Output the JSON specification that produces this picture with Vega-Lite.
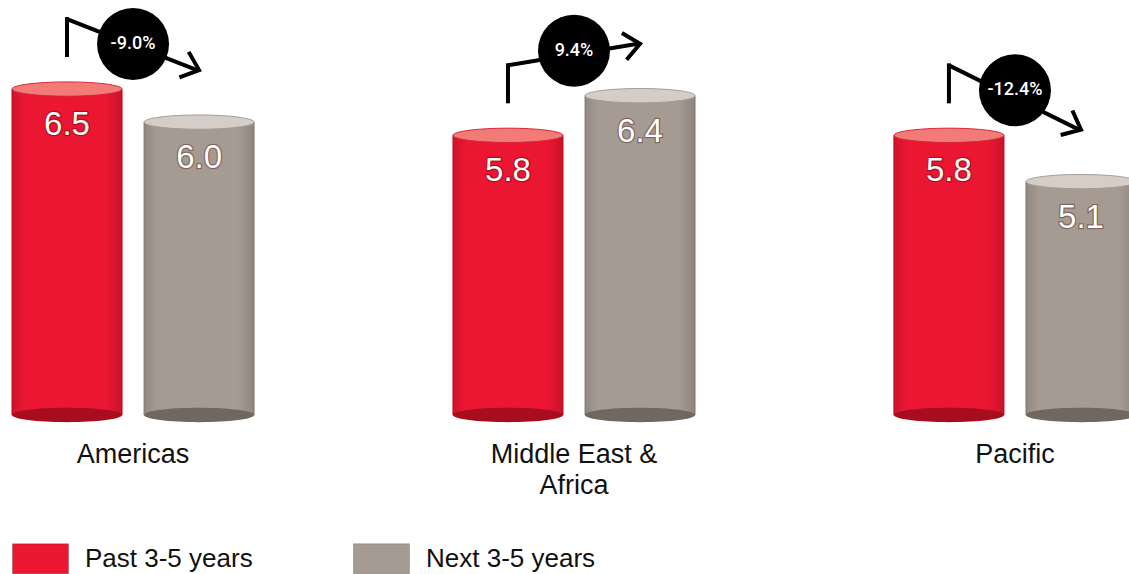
{
  "$schema": "https://vega.github.io/schema/vega-lite/v6.json",
  "width": 1129,
  "height": 359,
  "autosize": {"type": "none"},
  "padding": {"left": 0, "top": 56, "right": 0, "bottom": 159},
  "background": "white",
  "config": {"view": {"stroke": null}, "font": "Liberation Sans"},
  "datasets": {
    "bars": [
      {"region": "Americas", "period": "Past 3-5 years", "value": 6.5},
      {"region": "Americas", "period": "Next 3-5 years", "value": 6.0},
      {"region": "Middle East & Africa", "period": "Past 3-5 years", "value": 5.8},
      {"region": "Middle East & Africa", "period": "Next 3-5 years", "value": 6.4},
      {"region": "Pacific", "period": "Past 3-5 years", "value": 5.8},
      {"region": "Pacific", "period": "Next 3-5 years", "value": 5.1}
    ],
    "changes": [
      {"region": "Americas", "change": -9.0, "label": "-9.0%"},
      {"region": "Middle East & Africa", "change": 9.4, "label": "9.4%"},
      {"region": "Pacific", "change": -12.4, "label": "-12.4%"}
    ]
  },
  "encoding": {
    "x": {
      "field": "region",
      "type": "nominal",
      "sort": ["Americas", "Middle East & Africa", "Pacific"],
      "scale": {"range": [0, 1148], "paddingInner": 0.451, "paddingOuter": 0.0272},
      "axis": {
        "title": null,
        "domain": false,
        "ticks": false,
        "labelAngle": 0,
        "labelFontSize": 27,
        "labelFont": "Liberation Sans",
        "labelColor": "#111111",
        "labelPadding": 26,
        "labelLineHeight": 31,
        "labelLimit": 500,
        "labelExpr": "datum.value == 'Middle East & Africa' ? ['Middle East &', 'Africa'] : datum.label"
      }
    }
  },
  "layer": [
    {
      "data": {"name": "bars"},
      "mark": {"type": "bar", "strokeWidth": 1},
      "encoding": {
        "xOffset": {"field": "period", "type": "nominal", "sort": ["Past 3-5 years", "Next 3-5 years"], "scale": {"paddingInner": 0.1667, "paddingOuter": 0}},
        "y": {"field": "value", "type": "quantitative", "scale": {"domain": [1.57, 7], "nice": false, "zero": false}, "axis": null},
        "y2": {"datum": 1.57},
        "color": {
          "field": "period",
          "type": "nominal",
          "sort": ["Past 3-5 years", "Next 3-5 years"],
          "scale": {"domain": ["Past 3-5 years", "Next 3-5 years"], "range": ["#eb1631", "#a69b93"]},
          "legend": {
            "orient": "none",
            "legendX": 12,
            "legendY": 474,
            "direction": "horizontal",
            "title": null,
            "symbolType": "M -1 -0.536 H 1 V 0.536 H -1 Z",
            "symbolSize": 3136,
            "symbolStrokeColor": "rgba(0,0,0,0.2)",
            "symbolStrokeWidth": 1,
            "labelFontSize": 26,
            "labelFont": "Liberation Sans",
            "labelColor": "#111111",
            "labelOffset": 16,
            "columnPadding": 98,
            "padding": 0,
            "labelLimit": 400
          }
        },
        "stroke": {"condition": {"test": "datum.period === 'Past 3-5 years'", "value": "#c50f27"}, "value": "#8f847c"}
      }
    },
    {
      "data": {"name": "bars"},
      "mark": {
        "type": "bar",
        "fill": {
          "gradient": "linear", "x1": 0, "y1": 0, "x2": 1, "y2": 0,
          "stops": [
            {"offset": 0, "color": "rgba(0,0,0,0.12)"},
            {"offset": 0.12, "color": "rgba(0,0,0,0)"},
            {"offset": 0.85, "color": "rgba(0,0,0,0)"},
            {"offset": 1, "color": "rgba(0,0,0,0.14)"}
          ]
        }
      },
      "encoding": {
        "xOffset": {"field": "period", "type": "nominal", "sort": ["Past 3-5 years", "Next 3-5 years"]},
        "y": {"field": "value", "type": "quantitative"},
        "y2": {"datum": 1.57}
      }
    },
    {
      "data": {"name": "bars"},
      "mark": {"type": "point", "filled": true, "opacity": 1, "size": 12100, "shape": "M -1 0 A 1 0.13 0 1 1 1 0 A 1 0.13 0 1 1 -1 0 Z"},
      "encoding": {
        "xOffset": {"field": "period", "type": "nominal", "sort": ["Past 3-5 years", "Next 3-5 years"]},
        "y": {"datum": 1.57},
        "fill": {"condition": {"test": "datum.period === 'Past 3-5 years'", "value": "#a70d1e"}, "value": "#70675f"}
      }
    },
    {
      "data": {"name": "bars"},
      "mark": {"type": "point", "filled": true, "opacity": 1, "size": 12100, "strokeWidth": 1, "shape": "M -1 0 A 1 0.13 0 1 1 1 0 A 1 0.13 0 1 1 -1 0 Z"},
      "encoding": {
        "xOffset": {"field": "period", "type": "nominal", "sort": ["Past 3-5 years", "Next 3-5 years"]},
        "y": {"field": "value", "type": "quantitative"},
        "fill": {"condition": {"test": "datum.period === 'Past 3-5 years'", "value": "#f27b77"}, "value": "#d5cec8"},
        "stroke": {"condition": {"test": "datum.period === 'Past 3-5 years'", "value": "#d8253a"}, "value": "#a79c94"}
      }
    },
    {
      "data": {"name": "bars"},
      "mark": {"type": "text", "fontSize": 33, "font": "Liberation Sans", "baseline": "middle", "dy": 36, "fill": "rgba(60,0,0,0.45)", "stroke": "rgba(60,0,0,0.35)", "strokeWidth": 2.5},
      "encoding": {
        "xOffset": {"field": "period", "type": "nominal", "sort": ["Past 3-5 years", "Next 3-5 years"]},
        "y": {"field": "value", "type": "quantitative"},
        "text": {"field": "value", "type": "quantitative", "format": ".1f"}
      }
    },
    {
      "data": {"name": "bars"},
      "mark": {"type": "text", "fontSize": 33, "font": "Liberation Sans", "baseline": "middle", "dy": 36, "fill": "white"},
      "encoding": {
        "xOffset": {"field": "period", "type": "nominal", "sort": ["Past 3-5 years", "Next 3-5 years"]},
        "y": {"field": "value", "type": "quantitative"},
        "text": {"field": "value", "type": "quantitative", "format": ".1f"}
      }
    },
    {
      "data": {"name": "bars"},
      "transform": [{"filter": "datum.period === 'Past 3-5 years'"}],
      "mark": {"type": "rule", "color": "black", "strokeWidth": 4, "yOffset": -34, "y2Offset": -70, "strokeCap": "square"},
      "encoding": {
        "xOffset": {"field": "period", "type": "nominal", "sort": ["Past 3-5 years", "Next 3-5 years"]},
        "y": {"field": "value", "type": "quantitative"},
        "y2": {"field": "value"}
      }
    },
    {
      "data": {"name": "bars"},
      "transform": [{"pivot": "period", "value": "value", "groupby": ["region"]}],
      "mark": {"type": "rule", "color": "black", "strokeWidth": 4, "xOffset": -66, "x2Offset": 64, "yOffset": -70, "y2Offset": -52, "strokeCap": "butt"},
      "encoding": {
        "x2": {"field": "region"},
        "y": {"field": "Past 3-5 years", "type": "quantitative"},
        "y2": {"field": "Next 3-5 years"}
      }
    },
    {
      "data": {"name": "bars"},
      "transform": [
        {"filter": "datum.period === 'Next 3-5 years'"},
        {"lookup": "region", "from": {"data": {"name": "changes"}, "key": "region", "fields": ["change", "label"]}}
      ],
      "mark": {"type": "point", "filled": false, "opacity": 1, "size": 1024, "strokeWidth": 4, "stroke": "black", "yOffset": -52, "shape": "M -1 -0.85 L 0 0 L -1 0.85"},
      "encoding": {
        "xOffset": {"field": "period", "type": "nominal", "sort": ["Past 3-5 years", "Next 3-5 years"]},
        "y": {"field": "value", "type": "quantitative"},
        "angle": {"field": "change", "type": "quantitative", "scale": {"domain": [-12.4, 9.4], "range": [25.5, -9.9]}, "legend": null}
      }
    },
    {
      "data": {"name": "bars"},
      "transform": [
        {"joinaggregate": [{"op": "max", "field": "value", "as": "top"}], "groupby": ["region"]},
        {"filter": "datum.period === 'Next 3-5 years'"},
        {"lookup": "region", "from": {"data": {"name": "changes"}, "key": "region", "fields": ["change", "label"]}}
      ],
      "mark": {"type": "point", "shape": "circle", "filled": true, "opacity": 1, "color": "black", "size": 5184, "yOffset": -45},
      "encoding": {
        "y": {"field": "top", "type": "quantitative"}
      }
    },
    {
      "data": {"name": "bars"},
      "transform": [
        {"joinaggregate": [{"op": "max", "field": "value", "as": "top"}], "groupby": ["region"]},
        {"filter": "datum.period === 'Next 3-5 years'"},
        {"lookup": "region", "from": {"data": {"name": "changes"}, "key": "region", "fields": ["change", "label"]}}
      ],
      "mark": {"type": "text", "color": "white", "fontSize": 18, "font": "Roboto", "fontWeight": 500, "baseline": "middle", "yOffset": -45},
      "encoding": {
        "y": {"field": "top", "type": "quantitative"},
        "text": {"field": "label", "type": "nominal"}
      }
    }
  ]
}
